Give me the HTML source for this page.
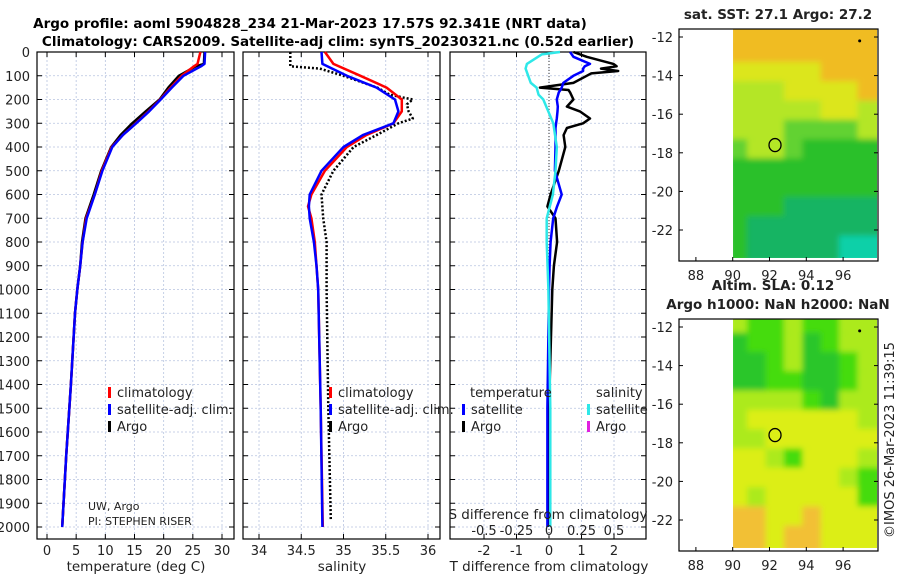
<!DOCTYPE html>
<html><head><meta charset="utf-8"><style>
body{margin:0;background:#fff;}
svg{display:block;font-family:"DejaVu Sans","Liberation Sans",sans-serif;}
</style></head><body>
<svg id="chart" width="900" height="580" viewBox="0 0 900 580">
<defs>
<filter id="blr" filterUnits="userSpaceOnUse" x="700" y="0" width="200" height="580"><feGaussianBlur stdDeviation="3"/></filter>
<clipPath id="c1"><rect x="733" y="29" width="144" height="229"/></clipPath>
<clipPath id="c2"><rect x="733" y="319" width="144" height="229"/></clipPath>
</defs>
<text x="310" y="28" text-anchor="middle" font-size="13.5" font-weight="bold">Argo profile: aoml 5904828_234 21-Mar-2023 17.57S 92.341E (NRT data)</text>
<text x="338" y="46" text-anchor="middle" font-size="13.5" font-weight="bold">Climatology: CARS2009. Satellite-adj clim: synTS_20230321.nc (0.52d earlier)</text>
<g id="g"></g>
</svg>
<script>
// depth levels
const tDepth=[0,50,60,100,150,200,250,300,350,400,500,600,700,800,900,1000,1100,1400,1700,2000];
const tClim=[26.3,25.8,25.2,23.1,21.2,19.4,17.4,15.2,13.0,11.1,9.4,8.2,6.7,6.1,5.7,5.2,4.8,4.1,3.3,2.6];
const tSat=[27.1,27.0,26.4,23.4,21.4,19.5,17.5,15.3,13.0,11.2,9.5,8.2,6.8,6.1,5.7,5.2,4.8,4.1,3.3,2.6];
const tArgo=[27.0,26.9,25.5,22.6,20.8,19.3,16.9,14.6,12.6,11.0,9.3,8.0,6.6,6.0,5.7,5.2,4.8,4.1,3.3,2.6];
const sDepth=[0,50,100,150,200,250,300,350,400,500,600,650,700,800,900,1000,1500,2000];
const sClim=[34.78,34.88,35.2,35.51,35.69,35.69,35.59,35.27,35.04,34.78,34.62,34.58,34.62,34.66,34.68,34.70,34.73,34.755];
const sSat=[34.74,34.75,35.04,35.39,35.61,35.65,35.59,35.23,35.0,34.74,34.6,34.59,34.6,34.65,34.68,34.70,34.73,34.75];
const sArgoDepth=[0,60,70,100,150,180,200,220,250,280,300,350,400,500,600,700,800,1000,1500,1970];
const sArgo=[34.37,34.37,34.72,35.0,35.4,35.55,35.82,35.75,35.77,35.82,35.65,35.39,35.12,34.88,34.74,34.76,34.80,34.80,34.82,34.85];
const dDepth=[0,20,50,60,70,80,90,100,130,150,160,170,200,230,250,280,300,320,350,400,500,600,650,700,800,900,1000,1500,2000];
const dTSat=[0.65,0.75,1.26,1.1,1.05,1.05,0.9,0.75,0.44,0.39,0.35,0.3,0.24,0.27,0.26,0.24,0.22,0.2,0.2,0.2,0.18,0.39,0.25,0.13,0.05,0.02,0.0,-0.05,-0.05];
const dTArgo=[0.75,1.16,1.98,2.08,1.6,2.13,1.3,1.16,0.75,-0.28,0.6,0.65,0.75,0.55,0.95,1.26,1.05,0.55,0.45,0.5,0.3,0.05,-0.05,0.2,0.25,0.15,0.1,0.0,0.0];
const sDiffDepth=[0,10,50,70,100,130,150,180,200,300,400,500,600,700,800,1000,1500,2000];
const dSSat=[0.085,-0.056,-0.17,-0.18,-0.16,-0.14,-0.095,-0.08,-0.044,0.033,0.06,0.05,0.03,-0.018,-0.018,-0.005,0.01,0.01];
const depthTicks=[0,100,200,300,400,500,600,700,800,900,1000,1100,1200,1300,1400,1500,1600,1700,1800,1900,2000];
const tTicks=[0,5,10,15,20,25,30];
const sTicks=[34,34.5,35,35.5,36];
const sTickLabels=["34","34.5","35","35.5","36"];
const dTTicks=[-2,-1,0,1,2];
const dSTicks=[-0.5,-0.25,0,0.25,0.5];
const dSTickLabels=["-0.5","-0.25","0","0.25","0.5"];
const latTicks=[-12,-14,-16,-18,-20,-22];
const lonTicks=[88,90,92,94,96];
const mapTop=["oooooooo","ooooooooo","yyyyyooo","lllyyyyo","lllllyyl","lllggggl","gllgGGGG","GGGGGGGG","GGGGGGGG","GGGttttt","Gttttttt","Gtttttcc"];
const mapBot=["LAALAALL","DAALDALL","DDALDDAL","DDAADDAL","LLLLADLL","LYYYYYYL","LLYYYYYY","YYLAYYYL","YYYYYYLA","YLYYYYYA","OOYYOYYY","OOYOOYYY"];
const pal={o:"#f0bc24",y:"#dce61e",l:"#b4e628",g:"#62d230",G:"#2cc02c",t:"#16b464",c:"#10d0a8",A:"#44dc0c",D:"#2cc62c",L:"#acea1e",Y:"#dcee18",O:"#f2c034"};

const NS="http://www.w3.org/2000/svg";
const G=document.getElementById('g');
function mk(tag,at,parent){const e=document.createElementNS(NS,tag);for(const k in at)e.setAttribute(k,at[k]);(parent||G).appendChild(e);return e;}
function txt(x,y,s,size,anchor,parent){const e=mk('text',{x:x,y:y,'font-size':size,'text-anchor':anchor||'middle',fill:'#222'},parent);e.textContent=s;return e;}
const Y0=52,DY=0.2375;
function yD(d){return Y0+d*DY;}
const ybot=539;
const panels=[
 {x0:37,x1:234,f:v=>47+v*5.8333},
 {x0:243,x1:440,f:v=>259+(v-34)*84.5},
 {x0:450,x1:646,f:v=>549+v*32.5}
];
const fS=v=>549+v*130;
panels.forEach((p,i)=>{
 const pg=mk('g',{});
 
 
 depthTicks.forEach(d=>{
  const l=mk('line',{x1:p.x0,x2:p.x1,y1:yD(d),y2:yD(d),stroke:'#b8c4e0','stroke-width':0.8,'stroke-dasharray':'2,2'},pg);
  
  
  mk('line',{x1:p.x0,x2:p.x0+5,y1:yD(d),y2:yD(d),stroke:'#000'},pg);
  mk('line',{x1:p.x1-5,x2:p.x1,y1:yD(d),y2:yD(d),stroke:'#000'},pg);
 });
 const xt=i==0?tTicks:i==1?sTicks:dTTicks;
 xt.forEach((v,j)=>{
  const x=p.f(v);
  mk('line',{x1:x,x2:x,y1:Y0,y2:ybot,stroke:'#b8c4e0','stroke-width':0.8,'stroke-dasharray':'2,2'},pg);
  mk('line',{x1:x,x2:x,y1:ybot-5,y2:ybot,stroke:'#000'},pg);
  mk('line',{x1:x,x2:x,y1:Y0,y2:Y0+5,stroke:'#000'},pg);
  const t=txt(x,555,i==1?sTickLabels[j]:String(v),13,'middle',pg);
  
  
 });
 const fr=mk('rect',{x:p.x0,y:Y0,width:p.x1-p.x0,height:ybot-Y0,fill:'none',stroke:'#000','stroke-width':1.2},pg);
 
 
});
depthTicks.forEach(d=>{
 const t=txt(30,yD(d)+5,String(d),13,'end');
 
 
});
function line(depths,vals,f,color,w,dash,name){
 const pts=depths.map((d,i)=>f(vals[i]).toFixed(1)+','+yD(d).toFixed(1)).join(' ');
 const a={points:pts,fill:'none',stroke:color,'stroke-width':w,'stroke-linejoin':'round'};
 if(dash)a['stroke-dasharray']=dash;
 const e=mk('polyline',a);
 
 
}
mk('line',{x1:549,x2:549,y1:Y0,y2:ybot,stroke:'#333','stroke-dasharray':'1,2'});
line(tDepth,tArgo,panels[0].f,'#000',2.5,null,'temperature-argo');
line(tDepth,tClim,panels[0].f,'#f00',2.5,null,'temperature-climatology');
line(tDepth,tSat,panels[0].f,'#00f',2.5,null,'temperature-satellite');
line(sArgoDepth,sArgo,panels[1].f,'#000',2.5,'2,2','salinity-argo');
line(sDepth,sClim,panels[1].f,'#f00',2.5,null,'salinity-climatology');
line(sDepth,sSat,panels[1].f,'#00f',2.5,null,'salinity-satellite');
line(dDepth,dTArgo,panels[2].f,'#000',2.5,null,'t-diff-argo');
line(dDepth,dTSat,panels[2].f,'#00f',2.5,null,'t-diff-satellite');
line(sDiffDepth,dSSat,fS,'#2ee8e8',2.5,null,'s-diff-satellite');
function leg(x,y,c,s,name){
 const r=mk('rect',{x:x,y:y-10,width:3,height:11,fill:c});
 
 
 const t=txt(x+9,y,s,13,'start');
 
 
}
leg(108,397,'#f00','climatology','legend-climatology');
leg(108,414,'#00f','satellite-adj. clim.','legend-satellite-adj');
leg(108,431,'#000','Argo','legend-argo');
leg(329,397,'#f00','climatology','legend2-climatology');
leg(329,414,'#00f','satellite-adj. clim.','legend2-satellite-adj');
leg(329,431,'#000','Argo','legend2-argo');
txt(470,397,'temperature',13,'start');
txt(596,397,'salinity',13,'start');
leg(462,414,'#00f','satellite','legend3-t-satellite');
leg(462,431,'#000','Argo','legend3-t-argo');
leg(587,414,'#2ee8e8','satellite','legend3-s-satellite');
leg(587,431,'#e020e0','Argo','legend3-s-argo');
txt(88,510,'UW, Argo',11,'start');
txt(88,525,'PI: STEPHEN RISER',11,'start');
txt(548,519,'S difference from climatology',13.5,'middle');
dSTicks.forEach((v,j)=>{const t=txt(fS(v),535,dSTickLabels[j],13,'middle');});
txt(136,571,'temperature (deg C)',13.5,'middle');
txt(342,571,'salinity',13.5,'middle');
txt(549,571,'T difference from climatology',13.5,'middle');
function map(top,grid,clip,title1,title2,name){
 const mg=mk('g',{});
 
 
 const latY=l=>top+8+(-12-l)*19.3;
 const lonX=l=>732.7+(l-90)*18.4;
 const cg=mk('g',{'clip-path':'url(#'+clip+')'},mg);
 const bg=mk('g',{filter:'url(#blr)'},cg);
 grid.forEach((row,r)=>{[...row].forEach((ch,c)=>{
  mk('rect',{x:lonX(90+c)-4,y:latY(-11.5-r)-4,width:18.4+8,height:19.3+8,fill:pal[ch]},bg);
 });});
 mk('rect',{x:679,y:top,width:199,height:232,fill:'none',stroke:'#000','stroke-width':1.2},mg);
 latTicks.forEach(l=>{const y=latY(l);mk('line',{x1:679,x2:683,y1:y,y2:y,stroke:'#000'},mg);mk('line',{x1:874,x2:878,y1:y,y2:y,stroke:'#000'},mg);txt(673,y+5,String(l),13,'end',mg);});
 lonTicks.forEach(l=>{const x=lonX(l);mk('line',{x1:x,x2:x,y1:top+228,y2:top+232,stroke:'#000'},mg);txt(x,top+251,String(l),13,'middle',mg);});
 const c=mk('ellipse',{cx:lonX(92.3),cy:latY(-17.6),rx:6,ry:6.5,fill:'none',stroke:'#000','stroke-width':1.3},mg);
 
 
 mk('circle',{cx:lonX(96.9),cy:latY(-12.2),r:1.5,fill:'#000'},mg);
 if(title2){const a=txt(773,top-29,title1,13.5,'middle',mg);a.setAttribute('font-weight','bold');const b=txt(778,top-10,title2,13.5,'middle',mg);b.setAttribute('font-weight','bold');}
 else{const a=txt(778,top-10,title1,13.5,'middle',mg);a.setAttribute('font-weight','bold');}
}
map(29,mapTop,'c1','sat. SST: 27.1 Argo: 27.2',null,'sst-map');
map(319,mapBot,'c2','Altim. SLA: 0.12','Argo h1000: NaN h2000: NaN','sla-map');
const cr=txt(0,0,'©IMOS 26-Mar-2023 11:39:15',13,'middle');
cr.setAttribute('transform','translate(894,440) rotate(-90)');


</script>
</body></html>
